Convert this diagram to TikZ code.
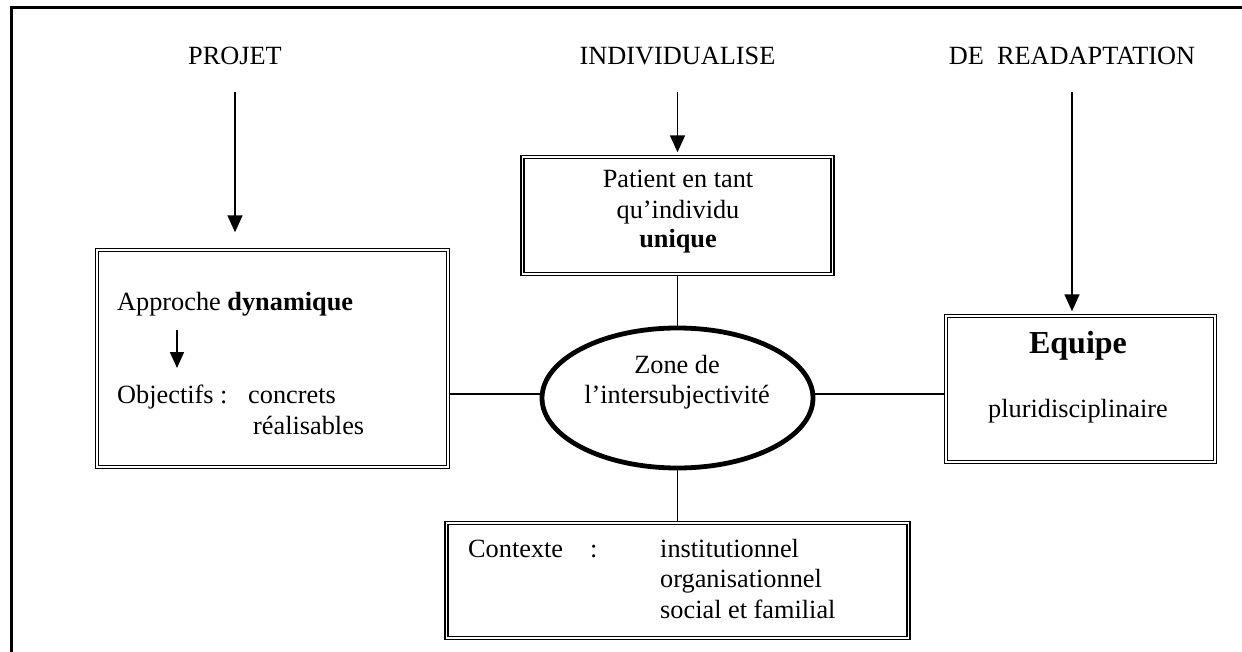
\documentclass[tikz,border=0pt]{standalone}
\usepackage{fontspec}
\setmainfont{Liberation Serif}
\usetikzlibrary{arrows.meta,shapes.geometric}
\begin{document}
\begin{tikzpicture}[x=1pt,y=-1pt,
  txt/.style={inner sep=0pt,anchor=base west,font=\fontsize{26.3}{31}\selectfont},
  ctxt/.style={txt,anchor=base},
  dbox/.style={draw,double,line width=1.4pt,double distance=1.5pt,inner sep=0pt},
  link/.style={line width=1.6pt},
  arr/.style={line width=1.6pt,-{Triangle[width=15pt,length=17pt]}}]
\useasboundingbox (0,0) rectangle (1242,652);
% open page frame
\draw[line width=3pt] (11,652) -- (11,8) -- (1242,8);

% headings
\node[ctxt] (projet) at (235,65) {PROJET};
\node[ctxt] (indiv) at (677.5,65) {INDIVIDUALISE};
\node[ctxt] (readapt) at (1072,65) {DE\ \ READAPTATION};

% boxes
\node[dbox,minimum width=351pt,minimum height=217pt] (lbox) at (272.5,358.5) {};
\node[dbox,minimum width=310pt,minimum height=117pt] (pbox) at (677.5,215.5) {};
\node[dbox,minimum width=269pt,minimum height=146pt] (ebox) at (1080.5,389) {};
\node[dbox,minimum width=462pt,minimum height=115pt] (cbox) at (677.5,580.5) {};
\node[draw,ellipse,line width=4.8pt,minimum width=271pt,minimum height=140pt,inner sep=0pt] (zone) at (677.5,398) {};

% left box text
\node[txt] (appr) at (117,311) {Approche \textbf{dynamique}};
\node[txt] (obj) at (117,403) {Objectifs :};
\node[txt] (concr) at (248,403) {concrets};
\node[txt] (real) at (253,434) {réalisables};
\coordinate (sa) at (177,330);
\coordinate (sb) at (177,368);
\draw[arr,-{Triangle[width=14pt,length=16pt]}] (sa) -- (sb);

% centre box text
\node[ctxt] (p1) at (678,188) {Patient en tant};
\node[ctxt] (p2) at (678,219) {qu’individu};
\node[ctxt] (p3) at (678,248) {\textbf{unique}};

% ellipse text
\node[ctxt] (z1) at (677,373) {Zone de};
\node[ctxt] (z2) at (677,403) {l’intersubjectivité};

% right box text
\node[ctxt,font=\fontsize{32}{38}\selectfont\bfseries] (eq) at (1078,353) {Equipe};
\node[ctxt] (pluri) at (1078,417) {pluridisciplinaire};

% bottom box text
\node[txt] (ctx) at (468,557) {Contexte};
\node[txt] (colon) at (590,557) {:};
\node[txt] (c1) at (660,557) {institutionnel};
\node[txt] (c2) at (660,587) {organisationnel};
\node[txt] (c3) at (660,618) {social et familial};

% heading arrows
\draw[arr,shorten <=27pt,shorten >=17pt] (projet.base) -- (projet.base |- lbox.north);
\draw[arr,shorten <=27pt,shorten >=4pt] (indiv.base) -- (indiv.base |- pbox.north);
\draw[arr,shorten <=27pt,shorten >=4pt] (readapt.base) -- (readapt.base |- ebox.north);

% links to the central zone
\draw[link] (pbox.south) -- (zone.north);
\draw[link] (zone.south) -- (cbox.north);
\draw[link] ([yshift=4pt]zone.west) -- ([yshift=4pt]zone.west -| lbox.east);
\draw[link] ([yshift=4pt]zone.east) -- ([yshift=4pt]zone.east -| ebox.west);
\end{tikzpicture}
\end{document}
